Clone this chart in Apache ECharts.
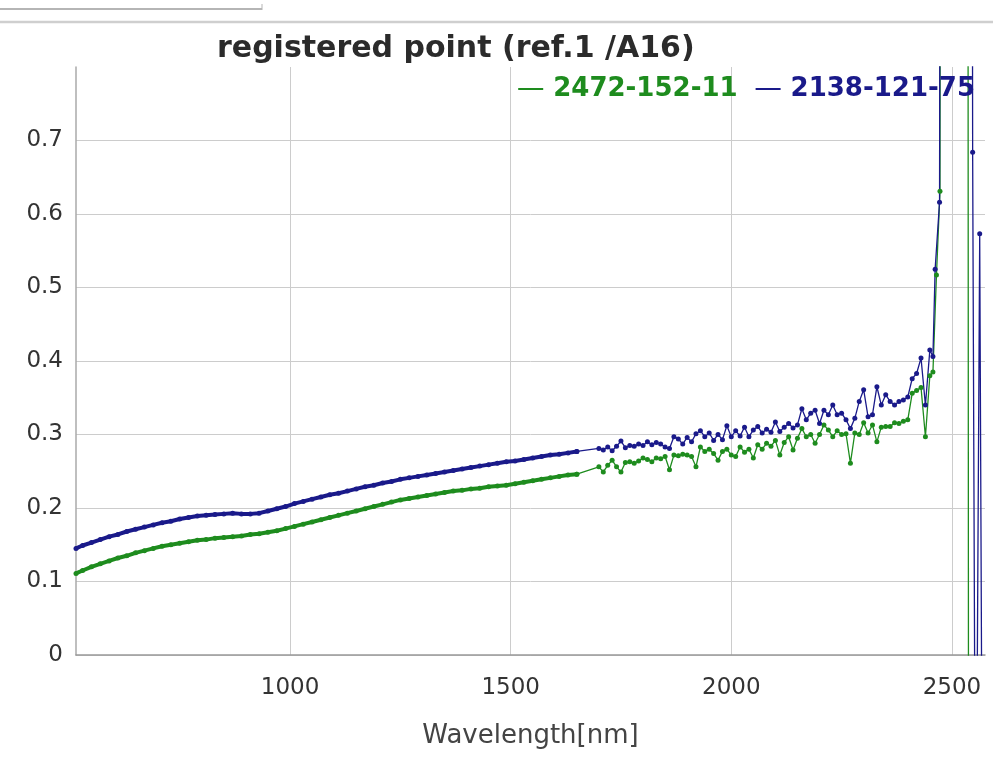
<!DOCTYPE html>
<html>
<head>
<meta charset="utf-8">
<script src="https://cdn.jsdelivr.net/npm/echarts@6/dist/echarts.min.js"></script>
<style>html,body{margin:0;padding:0;background:#fff;}#c{width:993px;height:757px;}</style>
</head>
<body>
<div id="c"></div>
<script>
// ---- data ----
const seriesNames = ['2472-152-11', '2138-121-75'];
const xTicks = [1000, 1500, 2000, 2500];
const yTicks = [0, 0.1, 0.2, 0.3, 0.4, 0.5, 0.6, 0.7];

const smoothWl = [515,530,550,570,590,610,630,650,670,690,710,730,750,770,790,810,830,850,870,890,910,930,950,970,990,
  1010,1030,1050,1070,1090,1110,1130,1150,1170,1190,1210,1230,1250,1270,1290,1310,1330,1350,1370,1390,1410,1430,1450,1470,1490,
  1510,1530,1550,1570,1590,1610,1630,1650];
const smoothBlue = [0.145,0.149,0.153,0.157,0.161,0.164,0.168,0.171,0.174,0.177,0.180,0.182,0.185,0.187,0.189,0.190,0.191,0.192,0.193,0.192,0.192,0.193,0.196,0.199,0.202,
  0.206,0.209,0.212,0.215,0.218,0.220,0.223,0.226,0.229,0.231,0.234,0.236,0.239,0.241,0.243,0.245,0.247,0.249,0.251,0.253,0.255,0.257,0.259,0.261,0.263,
  0.264,0.266,0.268,0.270,0.272,0.273,0.275,0.277];
const smoothGreen = [0.111,0.115,0.120,0.124,0.128,0.132,0.135,0.139,0.142,0.145,0.148,0.150,0.152,0.154,0.156,0.157,0.159,0.160,0.161,0.162,0.164,0.165,0.167,0.169,0.172,
  0.175,0.178,0.181,0.184,0.187,0.190,0.193,0.196,0.199,0.202,0.205,0.208,0.211,0.213,0.215,0.217,0.219,0.221,0.223,0.224,0.226,0.227,0.229,0.230,0.231,
  0.233,0.235,0.237,0.239,0.241,0.243,0.245,0.246];

const noisyWl = [1700,1710,1720,1730,1740,1750,1760,1770,1780,1790,1800,1810,1820,1830,1840,1850,1860,1870,1880,1890,
  1900,1910,1920,1930,1940,1950,1960,1970,1980,1990,2000,2010,2020,2030,2040,2050,2060,2070,2080,2090,
  2100,2110,2120,2130,2140,2150,2160,2170,2180,2190,2200,2210,2220,2230,2240,2250,2260,2270,2280,2290,
  2300,2310,2320,2330,2340,2350,2360,2370,2380,2390,2400,2410,2420,2430,2440,2450];
const noisyBlue = [0.281,0.279,0.283,0.278,0.284,0.291,0.282,0.285,0.284,0.287,0.285,0.290,0.286,0.289,0.287,0.283,0.281,0.297,0.294,0.287,
  0.296,0.290,0.301,0.305,0.297,0.302,0.292,0.300,0.293,0.312,0.297,0.305,0.298,0.310,0.297,0.306,0.311,0.302,0.307,0.303,
  0.317,0.304,0.310,0.315,0.309,0.313,0.335,0.320,0.329,0.333,0.315,0.333,0.327,0.340,0.327,0.329,0.320,0.308,0.322,0.345,
  0.361,0.324,0.327,0.365,0.340,0.354,0.345,0.340,0.345,0.347,0.351,0.376,0.383,0.404,0.340,0.415];
const noisyGreen = [0.256,0.249,0.258,0.265,0.256,0.249,0.262,0.263,0.261,0.264,0.268,0.266,0.263,0.268,0.267,0.270,0.252,0.272,0.271,0.273,
  0.272,0.270,0.256,0.283,0.277,0.280,0.274,0.265,0.277,0.280,0.272,0.270,0.283,0.276,0.280,0.268,0.286,0.280,0.288,0.284,
  0.292,0.272,0.289,0.297,0.279,0.295,0.308,0.297,0.300,0.288,0.300,0.313,0.306,0.297,0.305,0.300,0.301,0.261,0.302,0.300,
  0.316,0.302,0.313,0.290,0.310,0.311,0.311,0.316,0.315,0.318,0.320,0.356,0.360,0.364,0.297,0.380];

const tailBlueWl = [2457,2462,2472,2476,2543,2547,2554,2563,2570];
const tailBlue   = [0.406,0.525,0.616,2.5,2.5,0.684,-0.4,0.573,-0.4];
const tailGreenWl = [2457,2465,2473,2476,2535,2538];
const tailGreen   = [0.385,0.517,0.631,2.5,2.5,-0.5];

// ---- build ----
const GREEN = '#1e8c1e', BLUE = '#1a1a8a';
const pairs = (xs, ys) => xs.map((x, i) => [x, ys[i]]);
const last = (xs, ys) => [[xs[xs.length - 1], ys[ys.length - 1]]];

const greenSmooth = pairs(smoothWl, smoothGreen);
const blueSmooth = pairs(smoothWl, smoothBlue);
const greenRest = last(smoothWl, smoothGreen).concat(pairs(noisyWl, noisyGreen), pairs(tailGreenWl, tailGreen));
const blueRest = last(smoothWl, smoothBlue).concat(pairs(noisyWl, noisyBlue), pairs(tailBlueWl, tailBlue));

const FONT = 'DejaVu Sans';
const chart = echarts.init(document.getElementById('c'), null, {renderer: 'canvas'});
function lineSeries(name, color, data, lw, sym) {
  return {
    name: name, type: 'line', data: data, clip: true,
    symbol: 'circle', symbolSize: sym, showSymbol: true,
    itemStyle: {color: color}, lineStyle: {color: color, width: lw},
    emphasis: {disabled: true}, animation: false
  };
}
chart.setOption({
  animation: false,
  backgroundColor: '#ffffff',
  title: {
    text: 'registered point (ref.1 /A16)', left: 212, top: 29,
    textStyle: {fontFamily: FONT, fontSize: 30, fontWeight: 'bold', color: '#2b2b2b'}
  },
  legend: {
    right: 13, top: 71, itemGap: 18, itemWidth: 25, itemHeight: 2, icon: 'rect',
    textStyle: {fontFamily: FONT, fontSize: 26, fontWeight: 'bold', padding: [0, 0, 0, 5]},
    data: [
      {name: seriesNames[0], textStyle: {color: GREEN}},
      {name: seriesNames[1], textStyle: {color: BLUE}}
    ]
  },
  graphic: [
    {type: 'line', shape: {x1: 0, y1: 9, x2: 262, y2: 9}, style: {stroke: '#b5b5b5', lineWidth: 2}},
    {type: 'line', shape: {x1: 262, y1: 4, x2: 262, y2: 10}, style: {stroke: '#b5b5b5', lineWidth: 1}},
    {type: 'line', shape: {x1: 0, y1: 22, x2: 993, y2: 22}, style: {stroke: '#cfcfcf', lineWidth: 2.5}}
  ],
  grid: {left: 76, right: 8, top: 67, bottom: 102, containLabel: false},
  xAxis: {
    type: 'value', min: 515, max: 2575, minInterval: 500, maxInterval: 500,
    name: 'Wavelength[nm]', nameLocation: 'middle', nameGap: 68,
    nameTextStyle: {fontFamily: FONT, fontSize: 26, color: '#444'},
    axisLine: {show: true, lineStyle: {color: '#999', width: 1.5}},
    axisTick: {show: false},
    axisLabel: {
      fontFamily: FONT, fontSize: 23, color: '#333', margin: 22,
      showMinLabel: false, showMaxLabel: false,
      formatter: v => (xTicks.indexOf(v) >= 0 ? String(v) : '')
    },
    splitLine: {show: true, showMinLine: false, showMaxLine: false, lineStyle: {color: '#cccccc', width: 1}}
  },
  yAxis: {
    type: 'value', min: 0, max: 0.8, interval: 0.1,
    axisLine: {show: true, lineStyle: {color: '#aaa', width: 1.5}},
    axisTick: {show: false},
    axisLabel: {
      fontFamily: FONT, fontSize: 23, color: '#333', margin: 13,
      showMaxLabel: false,
      formatter: v => { const t = yTicks.find(k => Math.abs(k - v) < 1e-9); return t === undefined ? '' : String(t); }
    },
    splitLine: {show: true, showMaxLine: false, lineStyle: {color: '#cccccc', width: 1}}
  },
  series: [
    lineSeries(seriesNames[0], GREEN, greenSmooth, 4, 5),
    lineSeries(seriesNames[0], GREEN, greenRest, 1.3, 5),
    lineSeries(seriesNames[1], BLUE, blueSmooth, 4, 5),
    lineSeries(seriesNames[1], BLUE, blueRest, 1.3, 5)
  ]
});
</script>
</body>
</html>
